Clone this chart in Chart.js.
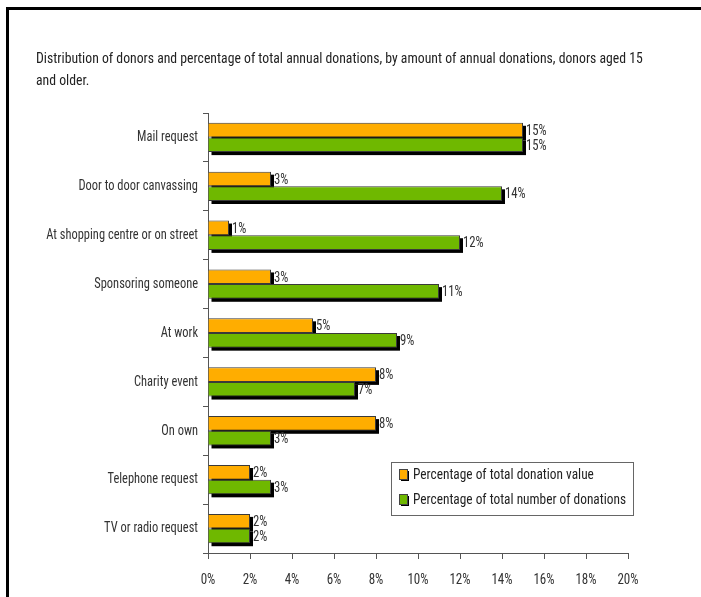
<!DOCTYPE html>
<html lang="en">
<head>
    <meta charset="UTF-8">
    <title>Donations by method</title>
    <script src="https://cdn.jsdelivr.net/npm/chart.js"></script>
    <style>
        body {
            margin: 0;
            background: white;
        }
        .frame {
            position: absolute;
            left: 6px;
            top: 7px;
            width: 720px;
            height: 620px;
            border: 3px solid black;
        }
        .chart-box {
            position: absolute;
            left: 0;
            top: 0;
            width: 701px;
            height: 597px;
        }
    </style>
</head>
<body>
    <div class="frame"></div>
    <div class="chart-box">
        <canvas id="donationChart" width="701" height="597"></canvas>
    </div>

    <script>
        const titleLines = [
            'Distribution of donors and percentage of total annual donations, by amount of annual donations, donors aged 15',
            'and older.'
        ];
        const categories = [
            'Mail request',
            'Door to door canvassing',
            'At shopping centre or on street',
            'Sponsoring someone',
            'At work',
            'Charity event',
            'On own',
            'Telephone request',
            'TV or radio request'
        ];
        const donationValue = [15, 3, 1, 3, 5, 8, 8, 2, 2];
        const donationCount = [15, 14, 12, 11, 9, 7, 3, 3, 2];
        const xTicks = [0, 2, 4, 6, 8, 10, 12, 14, 16, 18, 20];

        const font = "'Roboto Condensed', 'Liberation Sans', sans-serif";
        const textColor = '#333';

        // the original type is narrower than Roboto Condensed, so squeeze it
        function drawText(ctx, text, x, y, align, size, squeeze) {
            ctx.save();
            ctx.font = size + 'px ' + font;
            ctx.textAlign = align;
            ctx.translate(x, y);
            ctx.scale(squeeze || 0.83, 1);
            ctx.fillText(text, 0, 0);
            ctx.restore();
        }

        // black drop shadow behind every bar
        const shadowPlugin = {
            id: 'shadow',
            beforeDatasetsDraw(chart) {
                const ctx = chart.ctx;
                ctx.save();
                ctx.fillStyle = 'black';
                chart.data.datasets.forEach((ds, i) => {
                    chart.getDatasetMeta(i).data.forEach(bar => {
                        const p = bar.getProps(['x', 'y', 'base', 'height'], true);
                        ctx.fillRect(p.base + 3, p.y - p.height / 2 + 3, p.x - p.base, p.height);
                    });
                });
                ctx.restore();
            }
        };

        const labelPlugin = {
            id: 'valueLabels',
            afterDatasetsDraw(chart) {
                const ctx = chart.ctx;
                ctx.save();
                ctx.fillStyle = textColor;
                ctx.textBaseline = 'middle';
                chart.data.datasets.forEach((ds, i) => {
                    chart.getDatasetMeta(i).data.forEach((bar, j) => {
                        drawText(ctx, ds.data[j] + '%', bar.x + 3, bar.y + 1, 'left', 15, 0.85);
                    });
                });
                ctx.restore();
            }
        };

        // axis labels drawn here so they can use the narrow type
        const axisLabelPlugin = {
            id: 'axisLabels',
            afterDraw(chart) {
                const ctx = chart.ctx;
                const xs = chart.scales.x;
                const ys = chart.scales.y;
                ctx.save();
                ctx.fillStyle = textColor;
                ctx.textBaseline = 'middle';
                xTicks.forEach(v => {
                    drawText(ctx, v + '%', xs.getPixelForValue(v), xs.bottom - 17, 'center', 15, 0.87);
                });
                categories.forEach((c, i) => {
                    drawText(ctx, c, ys.right - 10, ys.getPixelForValue(i), 'right', 15);
                });
                ctx.restore();
            }
        };

        const titleAndLegendPlugin = {
            id: 'titleLegend',
            afterDraw(chart) {
                const ctx = chart.ctx;
                ctx.save();
                ctx.fillStyle = '#222';
                ctx.textBaseline = 'alphabetic';
                titleLines.forEach((line, i) => drawText(ctx, line, 36, 63 + i * 22, 'left', 15, 0.915));

                // legend box
                ctx.strokeStyle = '#666';
                ctx.lineWidth = 1;
                ctx.strokeRect(391.5, 462.5, 242, 53);
                ctx.textBaseline = 'middle';
                chart.data.datasets.forEach((ds, i) => {
                    const y = 475 + i * 25;
                    ctx.fillStyle = 'black';
                    ctx.fillRect(401, y - 4, 8, 10);
                    ctx.fillStyle = ds.backgroundColor;
                    ctx.fillRect(400, y - 5, 7, 9);
                    ctx.strokeStyle = '#444';
                    ctx.strokeRect(399.5, y - 5.5, 8, 10);
                    ctx.fillStyle = '#222';
                    drawText(ctx, ds.label, 413, y, 'left', 15, 0.89);
                });
                ctx.restore();
            }
        };

        new Chart(document.getElementById('donationChart'), {
            type: 'bar',
            data: {
                labels: categories,
                datasets: [
                    {
                        label: 'Percentage of total donation value',
                        data: donationValue,
                        backgroundColor: '#ffad00',
                        borderColor: '#3a3a3a',
                        borderWidth: 1
                    },
                    {
                        label: 'Percentage of total number of donations',
                        data: donationCount,
                        backgroundColor: '#6fb800',
                        borderColor: '#3a3a3a',
                        borderWidth: 1
                    }
                ]
            },
            options: {
                indexAxis: 'y',
                responsive: false,
                animation: false,
                categoryPercentage: 0.6,
                barPercentage: 1.0,
                layout: {
                    padding: { top: 113, right: 73, left: 0, bottom: 0 }
                },
                plugins: {
                    legend: { display: false },
                    title: { display: false },
                    tooltip: { enabled: false }
                },
                scales: {
                    x: {
                        min: 0,
                        max: 20,
                        afterBuildTicks(scale) {
                            scale.ticks = xTicks.map(v => ({ value: v }));
                        },
                        afterFit(scale) {
                            scale.height = 44;
                        },
                        grid: {
                            drawOnChartArea: false,
                            drawTicks: true,
                            tickLength: 6,
                            color: '#555'
                        },
                        border: { display: true, color: '#555' },
                        ticks: { display: false }
                    },
                    y: {
                        afterFit(scale) {
                            scale.width = 208;
                        },
                        grid: {
                            drawOnChartArea: false,
                            drawTicks: true,
                            tickLength: 5,
                            color: '#555'
                        },
                        border: { display: true, color: '#555' },
                        ticks: { display: false }
                    }
                }
            },
            plugins: [shadowPlugin, labelPlugin, axisLabelPlugin, titleAndLegendPlugin]
        });
    </script>
</body>
</html>
